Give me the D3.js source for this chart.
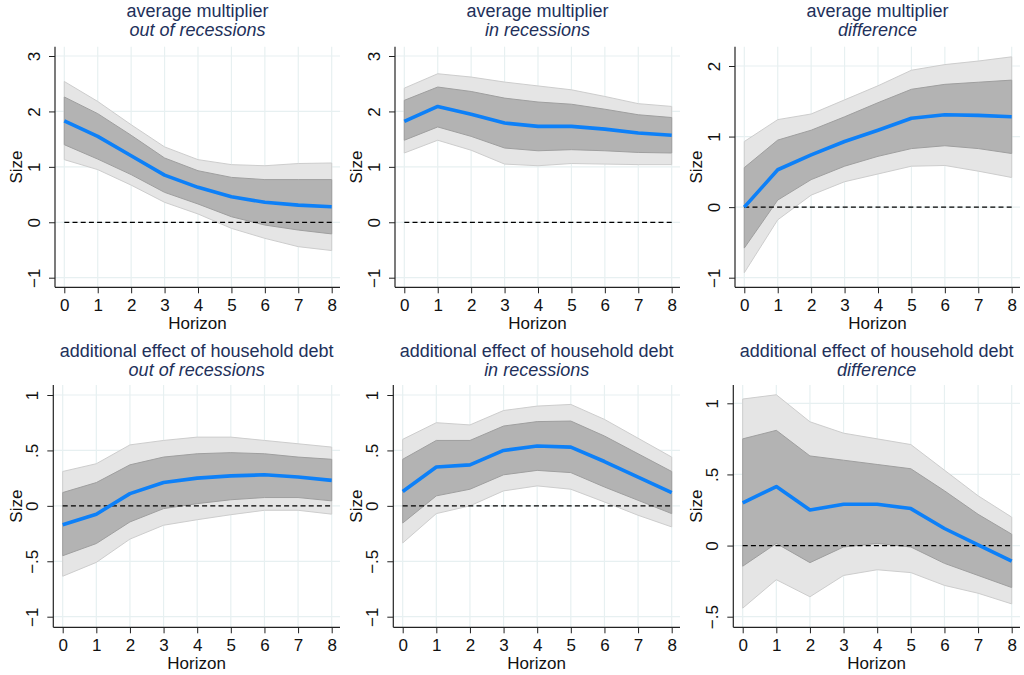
<!DOCTYPE html>
<html>
<head>
<meta charset="utf-8">
<script src="https://cdn.jsdelivr.net/npm/d3@7"></script>
<style>
body { margin: 0; background: #fff; }
text { font-family: "Liberation Sans", Arial, sans-serif; }
</style>
</head>
<body>
<svg id="chart" width="1024" height="675"></svg>
<script>
const horizon = [0, 1, 2, 3, 4, 5, 6, 7, 8];

// average multiplier - out of recessions
const avgOutEst  = [1.83, 1.55, 1.20, 0.85, 0.63, 0.46, 0.36, 0.31, 0.28];
const avgOutLo68 = [1.40, 1.14, 0.86, 0.54, 0.33, 0.10, -0.05, -0.14, -0.21];
const avgOutHi68 = [2.26, 1.96, 1.57, 1.16, 0.93, 0.81, 0.77, 0.77, 0.77];
const avgOutLo90 = [1.13, 0.95, 0.67, 0.36, 0.15, -0.11, -0.29, -0.44, -0.51];
const avgOutHi90 = [2.54, 2.18, 1.76, 1.36, 1.13, 1.04, 1.02, 1.06, 1.07];

// average multiplier - in recessions
const avgInEst  = [1.82, 2.09, 1.95, 1.79, 1.73, 1.73, 1.68, 1.61, 1.57];
const avgInLo68 = [1.48, 1.72, 1.55, 1.34, 1.29, 1.31, 1.29, 1.26, 1.25];
const avgInHi68 = [2.20, 2.44, 2.36, 2.24, 2.17, 2.13, 2.04, 1.94, 1.89];
const avgInLo90 = [1.25, 1.48, 1.30, 1.05, 1.02, 1.06, 1.05, 1.04, 1.04];
const avgInHi90 = [2.42, 2.68, 2.62, 2.53, 2.46, 2.39, 2.27, 2.14, 2.09];

// average multiplier - difference
const avgDiffEst  = [0.00, 0.53, 0.74, 0.93, 1.09, 1.26, 1.31, 1.30, 1.28];
const avgDiffLo68 = [-0.58, 0.10, 0.39, 0.58, 0.72, 0.83, 0.87, 0.83, 0.76];
const avgDiffHi68 = [0.56, 0.95, 1.09, 1.28, 1.48, 1.67, 1.74, 1.77, 1.80];
const avgDiffLo90 = [-0.93, -0.18, 0.17, 0.36, 0.47, 0.58, 0.59, 0.51, 0.42];
const avgDiffHi90 = [0.93, 1.24, 1.32, 1.52, 1.72, 1.94, 2.02, 2.07, 2.13];

// additional effect of household debt - out of recessions
const hhOutEst  = [-0.17, -0.075, 0.11, 0.21, 0.25, 0.27, 0.28, 0.26, 0.23];
const hhOutLo68 = [-0.45, -0.34, -0.145, -0.025, 0.02, 0.055, 0.075, 0.075, 0.045];
const hhOutHi68 = [0.12, 0.21, 0.37, 0.44, 0.47, 0.48, 0.47, 0.44, 0.42];
const hhOutLo90 = [-0.635, -0.51, -0.30, -0.175, -0.125, -0.08, -0.04, -0.04, -0.075];
const hhOutHi90 = [0.31, 0.38, 0.55, 0.59, 0.62, 0.62, 0.59, 0.56, 0.53];

// additional effect of household debt - in recessions
const hhInEst  = [0.13, 0.35, 0.37, 0.50, 0.54, 0.53, 0.40, 0.26, 0.12];
const hhInLo68 = [-0.155, 0.09, 0.15, 0.28, 0.32, 0.30, 0.17, 0.05, -0.07];
const hhInHi68 = [0.42, 0.59, 0.59, 0.72, 0.76, 0.765, 0.63, 0.47, 0.31];
const hhInLo90 = [-0.335, -0.07, 0.00, 0.135, 0.18, 0.15, 0.035, -0.085, -0.19];
const hhInHi90 = [0.60, 0.75, 0.73, 0.86, 0.90, 0.915, 0.78, 0.61, 0.44];

// additional effect of household debt - difference
const hhDiffEst  = [0.30, 0.415, 0.25, 0.29, 0.29, 0.26, 0.12, 0.005, -0.11];
const hhDiffLo68 = [-0.145, 0.015, -0.12, -0.01, 0.015, -0.01, -0.125, -0.21, -0.295];
const hhDiffHi68 = [0.75, 0.81, 0.63, 0.60, 0.57, 0.54, 0.385, 0.22, 0.08];
const hhDiffLo90 = [-0.44, -0.24, -0.36, -0.21, -0.17, -0.19, -0.28, -0.335, -0.41];
const hhDiffHi90 = [1.03, 1.06, 0.87, 0.79, 0.75, 0.71, 0.53, 0.35, 0.20];

const yTicksAvg = [-1, 0, 1, 2, 3];
const yTicksAvgDiff = [-1, 0, 1, 2];
const yTicksHH = [-1, -0.5, 0, 0.5, 1];
const yTicksHHDiff = [-0.5, 0, 0.5, 1];

const titleTop = "average multiplier";
const titleBottom = "additional effect of household debt";
const subtitles = ["out of recessions", "in recessions", "difference"];

const panels = [
  { row: 0, col: 0, title: titleTop, sub: subtitles[0], ticks: yTicksAvg,
    est: avgOutEst, lo68: avgOutLo68, hi68: avgOutHi68, lo90: avgOutLo90, hi90: avgOutHi90 },
  { row: 0, col: 1, title: titleTop, sub: subtitles[1], ticks: yTicksAvg,
    est: avgInEst, lo68: avgInLo68, hi68: avgInHi68, lo90: avgInLo90, hi90: avgInHi90 },
  { row: 0, col: 2, title: titleTop, sub: subtitles[2], ticks: yTicksAvgDiff,
    est: avgDiffEst, lo68: avgDiffLo68, hi68: avgDiffHi68, lo90: avgDiffLo90, hi90: avgDiffHi90 },
  { row: 1, col: 0, title: titleBottom, sub: subtitles[0], ticks: yTicksHH,
    est: hhOutEst, lo68: hhOutLo68, hi68: hhOutHi68, lo90: hhOutLo90, hi90: hhOutHi90 },
  { row: 1, col: 1, title: titleBottom, sub: subtitles[1], ticks: yTicksHH,
    est: hhInEst, lo68: hhInLo68, hi68: hhInHi68, lo90: hhInLo90, hi90: hhInHi90 },
  { row: 1, col: 2, title: titleBottom, sub: subtitles[2], ticks: yTicksHHDiff,
    est: hhDiffEst, lo68: hhDiffLo68, hi68: hhDiffHi68, lo90: hhDiffLo90, hi90: hhDiffHi90 }
];

// layout (pixels)
const colOffset = [0, 340, 680];
const rows = [
  { top: 46.7, bottom: 287.3, axisX: 55, x0: 64.3, tickTop: 56, tickTopD: 66, tickBottom: 277.7, t1: 17, t2: 35.5 },
  { top: 385, bottom: 627.3, axisX: 53.3, x0: 62.7, tickTop: 395, tickTopD: 403.3, tickBottom: 616.7, t1: 357, t2: 375.5 }
];

const colors = {
  grid: "#e7f0f1",
  band90: "#e5e5e5", band90Line: "#cdcdcd",
  band68: "#b3b3b3", band68Line: "#9f9f9f",
  line: "#0d80f8",
  title: "#22305a",
  axis: "#222"
};

const svg = d3.select("#chart");
svg.append("rect").attr("width", 1024).attr("height", 675).attr("fill", "#fff");

// stata style labels: .5, −.5, −1
const fmt = v => {
  if (v === 0) return "0";
  let s = String(Math.abs(v)).replace(/^0\./, ".");
  return (v < 0 ? "\u2212" : "") + s;
};

panels.forEach(p => {
  const r = rows[p.row];
  const off = colOffset[p.col];
  const left = off + r.axisX;
  const right = off + 340;
  const isDiff = p.col === 2;

  const x = d3.scaleLinear().domain([0, 8]).range([off + r.x0, off + 331.7]);
  const y = d3.scaleLinear()
    .domain([p.ticks[0], p.ticks[p.ticks.length - 1]])
    .range([r.tickBottom, isDiff ? r.tickTopD : r.tickTop]);

  const g = svg.append("g");

  // grid
  g.selectAll(".hg").data(p.ticks).join("line")
    .attr("x1", left).attr("x2", right)
    .attr("y1", d => y(d)).attr("y2", d => y(d))
    .attr("stroke", colors.grid).attr("stroke-width", 1.2);
  g.selectAll(".vg").data(horizon).join("line")
    .attr("x1", d => x(d)).attr("x2", d => x(d))
    .attr("y1", r.top).attr("y2", r.bottom)
    .attr("stroke", colors.grid).attr("stroke-width", 1.2);

  const area = (lo, hi) => d3.area()
    .x((d, i) => x(horizon[i]))
    .y0((d, i) => y(lo[i]))
    .y1((d, i) => y(hi[i]))(horizon);

  g.append("path").attr("d", area(p.lo90, p.hi90))
    .attr("fill", colors.band90).attr("stroke", colors.band90Line).attr("stroke-width", 1);
  g.append("path").attr("d", area(p.lo68, p.hi68))
    .attr("fill", colors.band68).attr("stroke", colors.band68Line).attr("stroke-width", 1);

  // zero line
  g.append("line")
    .attr("x1", x(0)).attr("x2", x(8))
    .attr("y1", y(0)).attr("y2", y(0))
    .attr("stroke", "#000").attr("stroke-width", 1.3)
    .attr("stroke-dasharray", "5,3.2");

  g.append("path")
    .attr("d", d3.line().x((d, i) => x(horizon[i])).y((d, i) => y(p.est[i]))(horizon))
    .attr("fill", "none").attr("stroke", colors.line)
    .attr("stroke-width", 3.6).attr("stroke-linejoin", "round");

  // axes
  const yAxis = g.append("g").attr("transform", `translate(${left},0)`)
    .call(d3.axisLeft(y).tickValues(p.ticks).tickSize(6).tickFormat(fmt));
  yAxis.select(".domain").remove();
  yAxis.selectAll(".tick line").attr("stroke", colors.axis);
  yAxis.selectAll(".tick text")
    .attr("transform", "rotate(-90)")
    .attr("x", 0).attr("y", -15).attr("dy", 0)
    .attr("text-anchor", "middle")
    .attr("fill", "#111")
    .style("font-size", "17px");

  const xAxis = g.append("g").attr("transform", `translate(0,${r.bottom})`)
    .call(d3.axisBottom(x).tickValues(horizon).tickSize(6).tickFormat(d3.format("d")));
  xAxis.select(".domain").remove();
  xAxis.selectAll(".tick line").attr("stroke", colors.axis);
  xAxis.selectAll(".tick text")
    .attr("y", 11.5).attr("dy", "0.71em")
    .attr("fill", "#111")
    .style("font-size", "17px");

  g.append("line").attr("x1", left).attr("x2", left).attr("y1", r.top).attr("y2", r.bottom)
    .attr("stroke", colors.axis).attr("stroke-width", 1.2);
  g.append("line").attr("x1", left).attr("x2", right).attr("y1", r.bottom).attr("y2", r.bottom)
    .attr("stroke", colors.axis).attr("stroke-width", 1.2);

  const cx = (left + right) / 2;
  const cy = (r.top + r.bottom) / 2;

  g.append("text")
    .attr("transform", `translate(${off + 22},${cy}) rotate(-90)`)
    .attr("text-anchor", "middle").attr("fill", "#111")
    .style("font-size", "17px").text("Size");
  g.append("text")
    .attr("x", cx).attr("y", r.bottom + 41.5)
    .attr("text-anchor", "middle").attr("fill", "#111")
    .style("font-size", "17px").text("Horizon");

  // titles
  g.append("text").attr("x", cx).attr("y", r.t1)
    .attr("text-anchor", "middle").attr("fill", colors.title)
    .style("font-size", "18px").text(p.title);
  g.append("text").attr("x", cx).attr("y", r.t2)
    .attr("text-anchor", "middle").attr("fill", colors.title)
    .style("font-size", "18px").style("font-style", "italic").text(p.sub);
});
</script>
</body>
</html>
